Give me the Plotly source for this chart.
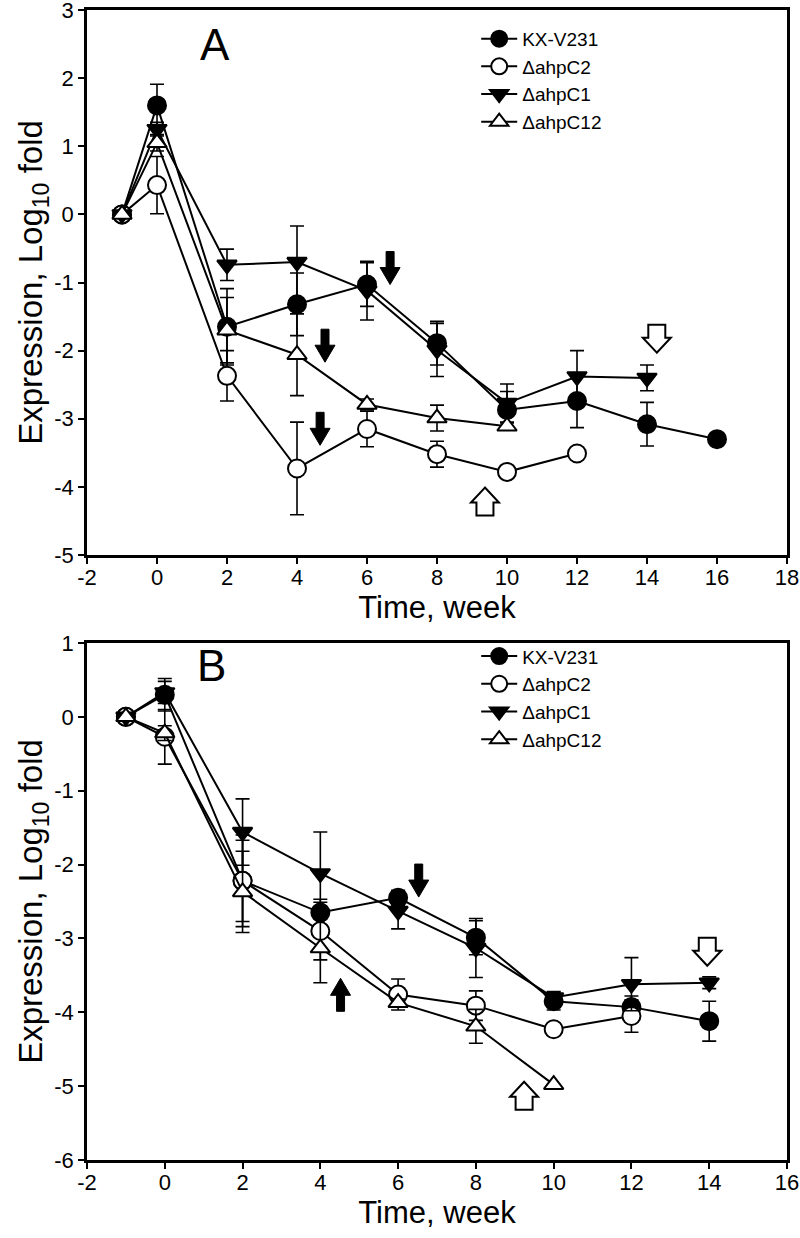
import plotly.graph_objects as go

# ---------------- data ----------------
series_names = ["KX-V231", "ΔahpC2", "ΔahpC1", "ΔahpC12"]

# Panel A
A_KX_x = [-1, 0, 2, 4, 6, 8, 10, 12, 14, 16]
A_KX_y = [0, 1.60, -1.65, -1.32, -1.03, -1.89, -2.87, -2.74, -3.08, -3.30]
A_KX_e = [0, 0.31, 0.56, 0.46, 0.32, 0.32, 0.27, 0.39, 0.32, 0]

A_C2_x = [-1, 0, 2, 4, 6, 8, 10, 12]
A_C2_y = [0, 0.43, -2.37, -3.73, -3.15, -3.52, -3.78, -3.51]
A_C2_e = [0, 0.42, 0.37, 0.68, 0.26, 0.19, 0.05, 0.05]

A_C1_x = [-1, 0, 2, 4, 6, 8, 10, 12, 14]
A_C1_y = [0, 1.25, -0.74, -0.70, -1.12, -1.99, -2.77, -2.38, -2.40]
A_C1_e = [0, 0.10, 0.23, 0.53, 0.43, 0.39, 0.28, 0.38, 0.19]

A_C12_x = [-1, 0, 2, 4, 6, 8, 10]
A_C12_y = [0, 1.05, -1.70, -2.06, -2.79, -2.99, -3.11]
A_C12_e = [0, 0.12, 0.48, 0.60, 0.08, 0.19, 0.05]

# Panel B
B_KX_x = [-1, 0, 2, 4, 6, 8, 10, 12, 14]
B_KX_y = [0, 0.30, -2.22, -2.65, -2.45, -2.99, -3.85, -3.93, -4.12]
B_KX_e = [0, 0.22, 0.55, 0.18, 0.10, 0.23, 0.12, 0.15, 0.27]

B_C2_x = [-1, 0, 2, 4, 6, 8, 10, 12]
B_C2_y = [0, -0.27, -2.22, -2.90, -3.76, -3.91, -4.23, -4.05]
B_C2_e = [0, 0.37, 0.62, 0.39, 0.21, 0.20, 0.05, 0.22]

B_C1_x = [-1, 0, 2, 4, 6, 8, 10, 12, 14]
B_C1_y = [0, 0.33, -1.56, -2.12, -2.63, -3.13, -3.80, -3.62, -3.60]
B_C1_e = [0, 0.15, 0.45, 0.56, 0.24, 0.40, 0.08, 0.36, 0.08]

B_C12_x = [-1, 0, 2, 4, 6, 8, 10]
B_C12_y = [0, -0.22, -2.37, -3.13, -3.87, -4.19, -4.98]
B_C12_e = [0, 0.10, 0.55, 0.47, 0.05, 0.23, 0]

# block arrows: (x, y of tip, direction, filled)
A_arrows = [(6.66, -1.03, "down", True), (4.80, -2.17, "down", True),
            (4.66, -3.39, "down", True), (9.37, -4.01, "up", False),
            (14.28, -2.03, "down", False)]
B_arrows = [(6.53, -2.44, "down", True), (4.52, -3.54, "up", True),
            (9.24, -4.94, "up", False), (13.95, -3.37, "down", False)]

x_ticks_A = list(range(-2, 19, 2))
x_ticks_B = list(range(-2, 17, 2))
y_ticks_A = list(range(-5, 4))
y_ticks_B = list(range(-6, 2))

# ---------------- layout constants ----------------
W, H = 800, 1238
ML, MR, MT, MB = 87, 13, 10, 78
plot_w = W - ML - MR
plot_h = H - MT - MB
domA = [(1160 - 555) / plot_h, 1.0]
domB = [0.0, (1160 - 643) / plot_h]
xrA, yrA = [-2, 18], [-5, 3]
xrB, yrB = [-2, 16], [-6, 1]

tick_font = dict(family="Liberation Sans, Arial", size=22, color="black")
title_font_x = dict(family="Liberation Sans, Arial", size=31, color="black")
title_font_y = dict(family="Liberation Sans, Arial", size=33, color="black")
leg_font = dict(family="Liberation Sans, Arial", size=19, color="black")

styles = [
    dict(symbol="circle", size=18, color="black", line=dict(color="black", width=2)),
    dict(symbol="circle", size=18, color="white", line=dict(color="black", width=2)),
    dict(symbol="triangle-down", size=17, color="black", line=dict(color="black", width=2)),
    dict(symbol="triangle-up", size=17, color="white", line=dict(color="black", width=2)),
]

fig = go.Figure()

def add_panel(data, xa, ya, legend):
    for name, (xs, ys, es), st in zip(series_names, data, styles):
        fig.add_trace(go.Scatter(
            x=xs, y=ys, mode="lines+markers", name=name,
            xaxis=xa, yaxis=ya, legend=legend,
            line=dict(color="black", width=2),
            marker=st,
            error_y=dict(type="data", array=es, visible=True,
                         color="black", thickness=1.6, width=7),
        ))

add_panel([(A_KX_x, A_KX_y, A_KX_e), (A_C2_x, A_C2_y, A_C2_e),
           (A_C1_x, A_C1_y, A_C1_e), (A_C12_x, A_C12_y, A_C12_e)], "x", "y", "legend")
add_panel([(B_KX_x, B_KX_y, B_KX_e), (B_C2_x, B_C2_y, B_C2_e),
           (B_C1_x, B_C1_y, B_C1_e), (B_C12_x, B_C12_y, B_C12_e)], "x2", "y2", "legend2")

# arrows as shapes, sized in pixels then converted to data units
def arrow_path(x, yt, direction, filled, xr, yr, dom):
    pxx = plot_w / (xr[1] - xr[0])
    pxy = plot_h * (dom[1] - dom[0]) / (yr[1] - yr[0])
    if filled:
        tot, hh, hw, sw = 33, 17, 20, 8
    else:
        tot, hh, hw, sw = 28, 15, 28, 17
    pts = [(0, 0), (-hw / 2, hh), (-sw / 2, hh), (-sw / 2, tot),
           (sw / 2, tot), (sw / 2, hh), (hw / 2, hh)]
    sgn = 1 if direction == "down" else -1
    coords = [(x + dx / pxx, yt + sgn * dy / pxy) for dx, dy in pts]
    return "M " + " L ".join(f"{a:.4f},{b:.4f}" for a, b in coords) + " Z"

shapes = []
for arr, xref, yref, xr, yr, dom in [(A_arrows, "x", "y", xrA, yrA, domA),
                                     (B_arrows, "x2", "y2", xrB, yrB, domB)]:
    for (ax, ay, d, f) in arr:
        shapes.append(dict(type="path", xref=xref, yref=yref,
                           path=arrow_path(ax, ay, d, f, xr, yr, dom),
                           fillcolor="black" if f else "white",
                           line=dict(color="black", width=2 if not f else 1)))

axis_common = dict(showline=True, linecolor="black", linewidth=2.5, mirror=True,
                   ticks="outside", ticklen=6, tickwidth=1.5, tickcolor="black",
                   showgrid=False, zeroline=False, tickfont=tick_font, automargin=False,
                   ticklabeloverflow="allow")

def tt(v):
    return [str(t) for t in v]

fig.update_layout(
    width=W, height=H, autosize=False,
    margin=dict(l=ML, r=MR, t=MT, b=MB),
    paper_bgcolor="white", plot_bgcolor="white",
    showlegend=True,
    shapes=shapes,
    xaxis=dict(domain=[0, 1], range=xrA, tickvals=x_ticks_A, ticktext=tt(x_ticks_A),
               anchor="y", ticklabelstandoff=-5,
               title=dict(text="Time, week", font=title_font_x, standoff=4), **axis_common),
    yaxis=dict(domain=domA, range=yrA, tickvals=y_ticks_A, ticktext=tt(y_ticks_A), anchor="x",
               title=dict(text="Expression, Log<sub>10</sub> fold", font=title_font_y, standoff=0),
               **axis_common),
    xaxis2=dict(domain=[0, 1], range=xrB, tickvals=x_ticks_B, ticktext=tt(x_ticks_B),
                anchor="y2", ticklabelstandoff=-5,
                title=dict(text="Time, week", font=title_font_x, standoff=4), **axis_common),
    yaxis2=dict(domain=domB, range=yrB, tickvals=y_ticks_B, ticktext=tt(y_ticks_B), anchor="x2",
                title=dict(text="Expression, Log<sub>10</sub> fold", font=title_font_y, standoff=0),
                **axis_common),
    legend=dict(x=0.556, y=0.9915, xanchor="left", yanchor="top", font=leg_font,
                bgcolor="rgba(0,0,0,0)", tracegroupgap=0, itemwidth=36),
    legend2=dict(x=0.556, y=domB[1] + 0.005, xanchor="left", yanchor="top", font=leg_font,
                 bgcolor="rgba(0,0,0,0)", tracegroupgap=0, itemwidth=36),
    annotations=[
        dict(text="A", x=1.66, y=2.50, xref="x", yref="y", showarrow=False,
             font=dict(family="Liberation Sans, Arial", size=44, color="black")),
        dict(text="B", x=1.21, y=0.70, xref="x2", yref="y2", showarrow=False,
             font=dict(family="Liberation Sans, Arial", size=44, color="black")),
    ],
)

fig.write_html("out.html", config={"displayModeBar": False},
               post_script="document.body.style.margin='0';")
